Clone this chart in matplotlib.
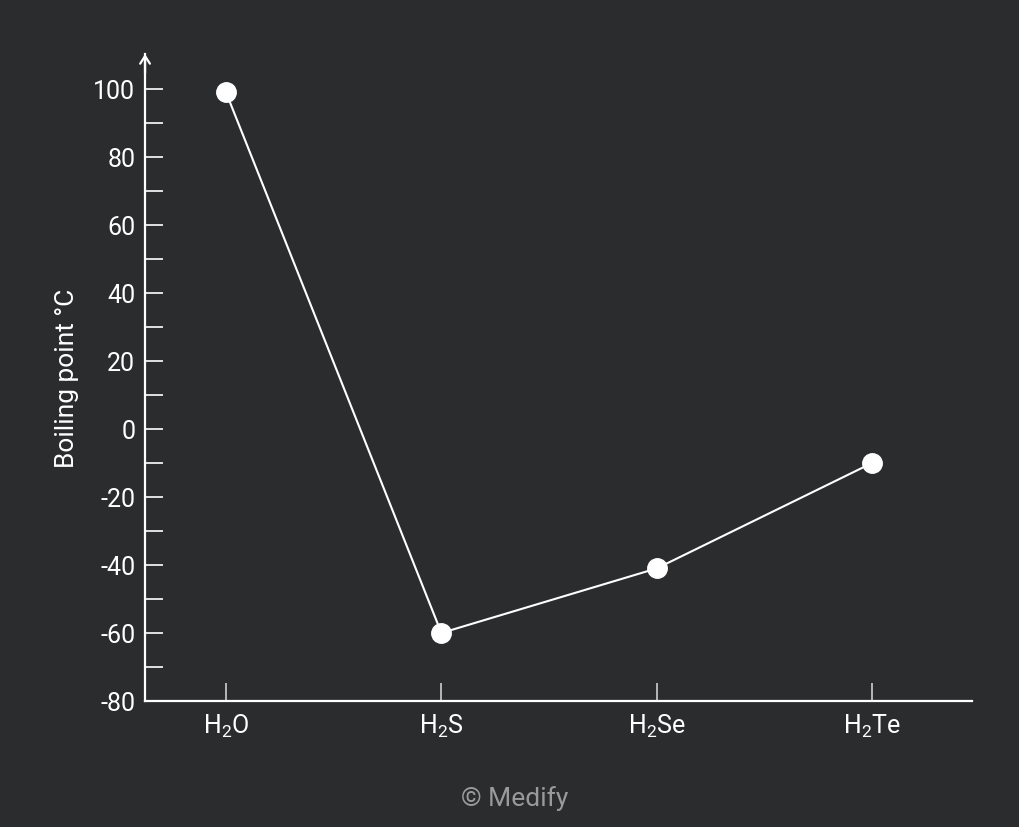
import matplotlib
matplotlib.use("Agg")
import matplotlib.pyplot as plt
from matplotlib.ticker import FixedLocator

plt.rcParams['font.family'] = ['Roboto', 'DejaVu Sans']
plt.rcParams['mathtext.default'] = 'regular'
plt.rcParams['axes.unicode_minus'] = False

# data
compounds     = ["H$_2$O", "H$_2$S", "H$_2$Se", "H$_2$Te"]
boiling_point = [99, -60, -41, -10]
y_major       = [-80, -60, -40, -20, 0, 20, 40, 60, 80, 100]
y_minor       = [-70, -50, -30, -10, 10, 30, 50, 70, 90]

BG    = '#2b2c2e'
FG    = '#ffffff'

fig = plt.figure(figsize=(10.2, 8.28), dpi=100, facecolor=BG)
ax  = fig.add_axes([0.1422, 0.1522, 0.8108, 0.7814], facecolor=BG)

xs = list(range(len(compounds)))
ax.plot(xs, boiling_point,
        color      = FG,
        lw         = 1.5,
        marker     = 'o',
        markersize = 14,
        markerfacecolor = FG,
        markeredgecolor = FG,
        zorder     = 3)

ax.set_xlim(-0.376, 3.464)
ax.set_ylim(-80, 110.3)

ax.set_xticks(xs)
ax.set_xticklabels(compounds)
ax.set_yticks(y_major)
ax.yaxis.set_minor_locator(FixedLocator(y_minor))

ax.tick_params(axis='both', which='both', direction='in', colors=FG,
               length=13, width=1.2, labelsize=18, labelcolor=FG)
ax.tick_params(axis='y', which='both', direction='in', pad=7)
ax.tick_params(axis='x', pad=8, color='#cfcfcf')

for s in ['top', 'right']:
    ax.spines[s].set_visible(False)
for s in ['left', 'bottom']:
    ax.spines[s].set_color(FG)
    ax.spines[s].set_linewidth(1.6)

ax.annotate('', xy=(0, 1.0), xytext=(0, 0.97), xycoords='axes fraction',
            arrowprops=dict(arrowstyle='->,head_width=0.35,head_length=0.55',
                            color=FG, lw=1.6, shrinkA=0, shrinkB=0))

ax.set_ylabel('Boiling point °C', color=FG, fontsize=19, labelpad=10)

fig.text(0.505, 0.036, '© Medify', color='#9a9a9a', fontsize=19,
         ha='center', va='center')

fig.savefig('out.png', dpi=100, facecolor=BG)
